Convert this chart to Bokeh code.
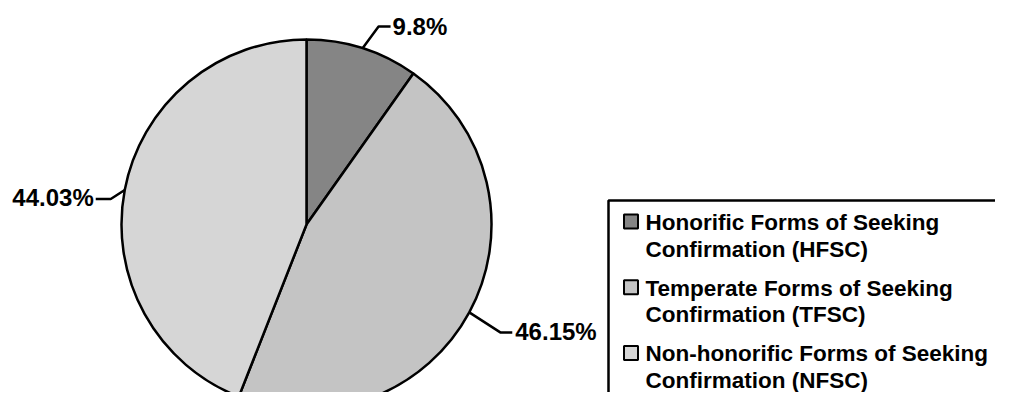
import numpy as np
from bokeh.plotting import figure
from bokeh.models import Range1d
from bokeh.core.properties import value
from bokeh.embed import file_html
from bokeh.resources import INLINE

# ---- data ----
categories = ["HFSC", "TFSC", "NFSC"]
legend_labels = [
    "Honorific Forms of Seeking\nConfirmation (HFSC)",
    "Temperate Forms of Seeking\nConfirmation (TFSC)",
    "Non-honorific Forms of Seeking\nConfirmation (NFSC)",
]
percentages = [9.8, 46.15, 44.03]
colors = ["#858585", "#c4c4c4", "#d6d6d6"]

# ---- layout (1 data unit = 1 px) ----
W, H = 995, 392
def sx(x):  # picture pixel -> data x
    return x
def sy(y):  # picture pixel -> data y
    return H - y

FONT = value("Liberation Sans")
cx, cy, R = sx(306), sy(224), 185

p = figure(width=W, height=H, output_backend="svg", toolbar_location=None,
           x_range=Range1d(0, W), y_range=Range1d(0, H), min_border=0)
p.axis.visible = False
p.grid.visible = False
p.outline_line_color = None
p.background_fill_color = "white"
p.border_fill_color = "white"

vals = np.array(percentages, dtype=float)
frac = vals / vals.sum()
cum = np.cumsum(frac)
start = np.pi / 2 - 2 * np.pi * (cum - frac)
end = np.pi / 2 - 2 * np.pi * cum

p.wedge(x=cx, y=cy, radius=R, start_angle=list(start), end_angle=list(end),
        direction="clock", fill_color=colors, line_color="black", line_width=2.5)

# leader lines + labels
mid = 2 * np.pi * (cum - frac / 2)
ax = cx + R * np.sin(mid)
ay = cy + R * np.cos(mid)
elbow_off = [(16, 21.7), (31, -20), (-14, -9)]
end_off = [(28, 21.7), (43, -20), (-29, -9)]
text_off = [(2, 0), (3, 1), (-2, 2)]
aligns = ["left", "left", "right"]
for i in range(3):
    ex, ey = ax[i] + elbow_off[i][0], ay[i] + elbow_off[i][1]
    fx, fy = ax[i] + end_off[i][0], ay[i] + end_off[i][1]
    p.line([ax[i], ex, fx], [ay[i], ey, fy], line_color="black", line_width=2.5)
    p.text(x=[fx + text_off[i][0]], y=[fy + text_off[i][1]],
           text=[f"{percentages[i]:g}%"], text_font=FONT, text_font_style="bold",
           text_font_size="24px", text_align=aligns[i], text_baseline="middle",
           text_color="black")

# legend box
p.quad(left=[sx(608)], right=[sx(1300)], top=[sy(200)], bottom=[sy(600)],
       fill_color=None, line_color="black", line_width=2.5)

pitch, inner = 65.7, 26.7
for i, lab in enumerate(legend_labels):
    p.rect(x=[sx(630.5)], y=[sy(221 + pitch * i)], width=14, height=14,
           fill_color=colors[i], line_color="black", line_width=2)
    lines = lab.split("\n")
    for j, ln in enumerate(lines):
        p.text(x=[sx(645)], y=[sy(222 + pitch * i + inner * j)], text=[ln],
               text_font=FONT, text_font_style="bold", text_font_size="22.5px",
               text_align="left", text_baseline="middle", text_color="black")

open("out.html", "w").write(file_html(p, INLINE))
